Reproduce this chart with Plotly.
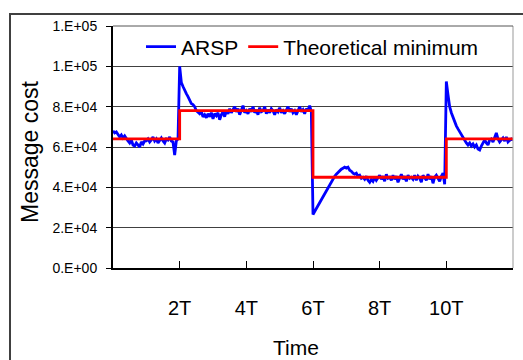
import plotly.graph_objects as go

# ---- data ----
sample_step_T = 0.05  # ARSP sampled every 0.05T
arsp_k = [
    # 0.00 - 0.95
    68, 67, 67.5, 66, 65, 66, 64.5, 65.5, 64, 63, 62, 63.5, 61, 60.5, 62, 61, 60, 62.5, 61.5, 63,
    # 1.00 - 1.95
    63, 64, 62.5, 63.5, 65, 63, 64, 62, 63.5, 64.5, 63, 62, 64, 63.5, 65, 63, 62.5, 56, 63, 64,
    # 2.00 - 2.95
    100, 92, 90, 88, 86.5, 85, 83, 81.5, 81, 80, 78, 77, 76.5, 77.5, 75, 76, 74.5, 76.5, 75, 77,
    # 3.00 - 3.95
    74, 76.5, 75.5, 77, 73.5, 76, 77.5, 75, 78, 76.5, 79, 77, 78.5, 80, 77.5, 79, 76, 78.5, 80.5, 77,
    # 4.00 - 4.95
    78, 76.5, 79, 77.5, 80, 77, 78.5, 76, 79.5, 77.5, 78, 80, 76.5, 78.5, 77, 79, 78, 76, 78.5, 77.5,
    # 5.00 - 5.95
    79.5, 77, 78, 76.5, 78.5, 80, 77.5, 79, 77, 78, 76, 78.5, 80, 77.5, 78.5, 76.5, 79, 78, 80.5, 77.5,
    # 6.00 - 6.95
    26.5, 28, 29.5, 31, 32.5, 34, 35.5, 37, 38.5, 40, 41.5, 43, 44.5, 45.5, 46.5, 47.5, 48.5, 49, 49.5, 50,
    # 7.00 - 7.95
    49.5, 50, 48.5, 48, 47, 46.5, 47, 45.5, 46, 44.5, 45, 44, 45.5, 43.5, 42.5, 44, 43, 45, 43.5, 44.5,
    # 8.00 - 8.95
    46, 44, 45.5, 43, 46.5, 44.5, 45, 43.5, 46, 44, 45.5, 42.5, 45, 46.5, 44, 45.5, 43, 46, 44.5, 45,
    # 9.00 - 9.95
    44, 46, 43.5, 45.5, 44.5, 42.5, 46, 45, 43.5, 46.5, 44, 45.5, 42, 45, 46, 44.5, 43, 45.5, 47, 41.5,
    # 10.00 - 10.95
    92.5, 86, 80, 77, 74.5, 72, 70.5, 69, 67.5, 66, 65, 63.5, 62, 61, 62, 60.5, 61.5, 60, 61, 59,
    # 11.00 - 12.00
    58.5, 60.5, 62, 63.5, 62, 61, 63.5, 64, 62.5, 65, 67, 64, 62.5, 63.5, 64.5, 63, 65, 62.5, 63.5, 64, 63.5,
]
arsp_time = [round(i * sample_step_T, 2) for i in range(len(arsp_k))]
arsp = [v * 1000 for v in arsp_k]

theory_time = [0, 2, 6, 10, 12]
theory = [64000, 78000, 45000, 64000, 64000]

y_tickvals = [0, 20000, 40000, 60000, 80000, 100000, 120000]
y_ticktext = ["0.E+00", "2.E+04", "4.E+04", "6.E+04", "8.E+04", "1.E+05", "1.E+05"]
x_tickvals = [0, 2, 4, 6, 8, 10, 12]
x_ticktext = ["", "2T", "4T", "6T", "8T", "10T", ""]

FONT = "Liberation Sans, Arial, sans-serif"

fig = go.Figure()
fig.add_trace(go.Scatter(x=arsp_time, y=arsp, mode="lines", name="ARSP",
                         line=dict(color="#0000FF", width=2.8)))
fig.add_trace(go.Scatter(x=theory_time, y=theory, mode="lines", name="Theoretical minimum",
                         line=dict(color="#FF0000", width=2.8, shape="hv")))

W, H = 523, 360
L, R, T, B = 113, 513, 26, 268
pw, ph = R - L, B - T

def px(x):
    return (x - L) / pw

def py(y):
    return (B - y) / ph

fig.update_layout(
    width=W, height=H,
    margin=dict(l=L, r=W - R, t=T, b=H - B),
    paper_bgcolor="white", plot_bgcolor="white",
    font=dict(family=FONT, color="black"),
    showlegend=True,
    legend=dict(orientation="h", x=px(141), y=py(47), xanchor="left", yanchor="middle",
                font=dict(size=21), bgcolor="rgba(0,0,0,0)", itemwidth=30,
                tracegroupgap=0),
    xaxis=dict(range=[0, 12], tickmode="array", tickvals=x_tickvals, ticktext=x_ticktext,
               ticks="inside", ticklen=7, tickcolor="black", tickwidth=1,
               showgrid=False, zeroline=False, showline=True, linecolor="black", linewidth=2,
               tickfont=dict(size=20), ticklabelstandoff=21),
    yaxis=dict(range=[0, 120000], tickmode="array", tickvals=y_tickvals, ticktext=y_ticktext,
               ticks="outside", ticklen=5, tickcolor="black", tickwidth=1,
               showgrid=True, gridcolor="#404040", gridwidth=1,
               zeroline=False, showline=True, linecolor="black", linewidth=2,
               tickfont=dict(size=14), ticklabelstandoff=6),
    shapes=[
        dict(type="line", xref="paper", yref="paper", x0=1, x1=1, y0=0, y1=1,
             line=dict(color="#999999", width=1)),
        dict(type="line", xref="paper", yref="paper", x0=0, x1=1, y0=1, y1=1,
             line=dict(color="#555555", width=1)),
        dict(type="rect", xref="paper", yref="paper", x0=px(10), x1=px(560), y0=py(420), y1=py(14),
             line=dict(color="#404040", width=2), layer="below"),
    ],
    annotations=[
        dict(text="Time", xref="paper", yref="paper", x=px(296), y=py(347),
             xanchor="center", yanchor="middle", showarrow=False, font=dict(size=21)),
        dict(text="Message cost", xref="paper", yref="paper", x=px(30), y=py(152),
             xanchor="center", yanchor="middle", showarrow=False, textangle=-90,
             font=dict(size=23)),
    ],
)

fig.write_html("out.html", config={"displayModeBar": False},
               post_script="document.body.style.margin='0';document.body.style.overflow='hidden';")
